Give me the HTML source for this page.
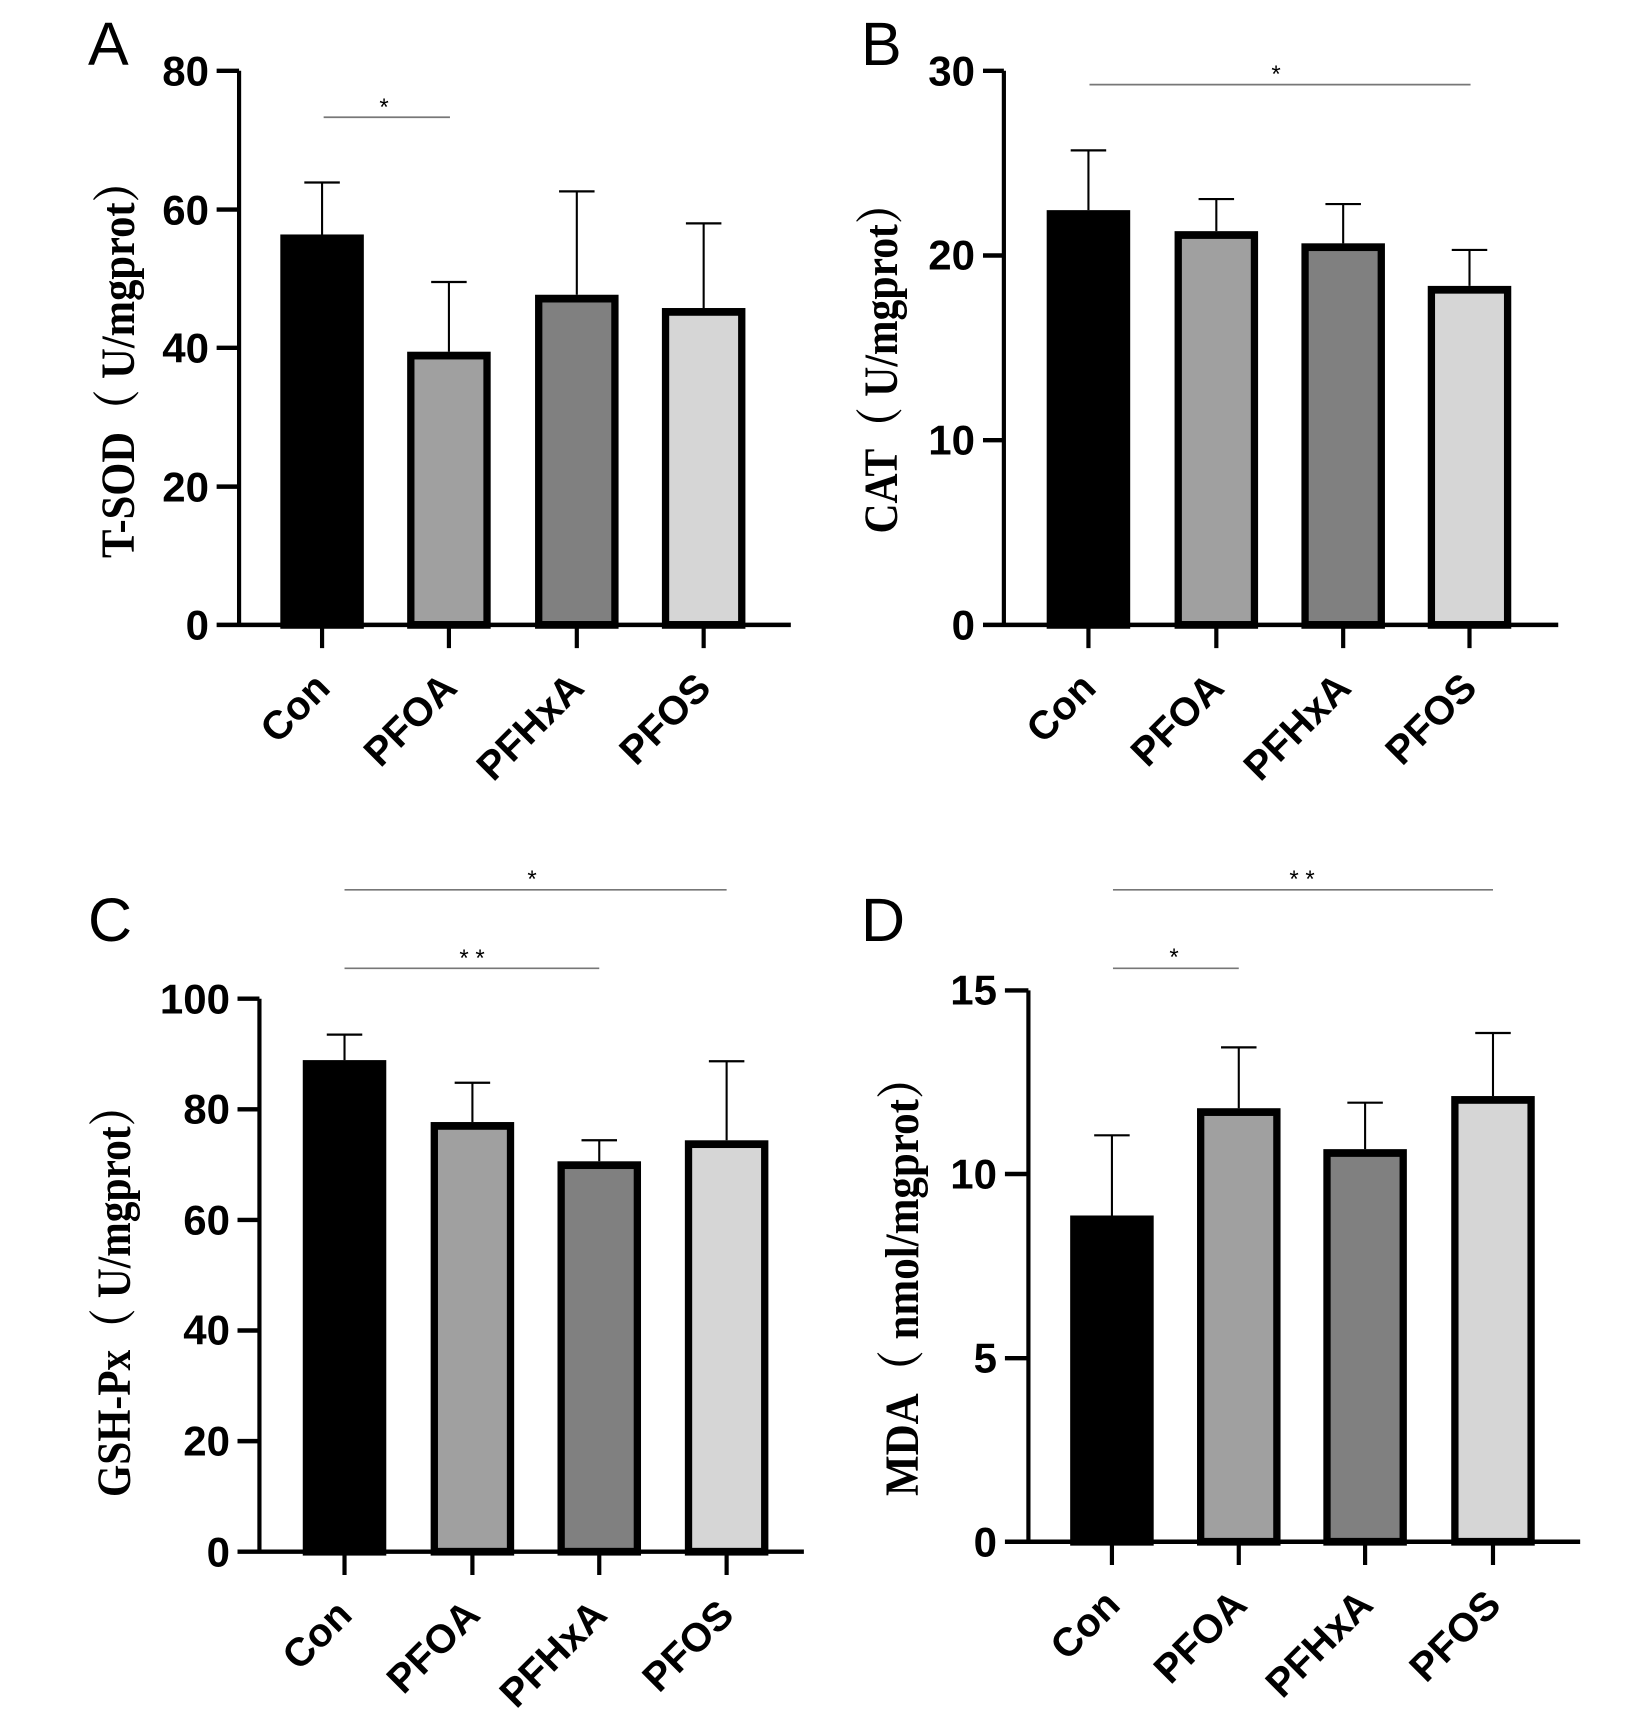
<!DOCTYPE html>
<html><head><meta charset="utf-8"><style>html,body{margin:0;padding:0;background:#fff}svg{display:block}</style></head><body>
<svg width="1635" height="1733" viewBox="0 0 1635 1733" xmlns="http://www.w3.org/2000/svg">
<defs>
<style>
.ax{stroke:#000;stroke-width:8;fill:none}
.eb{stroke:#000;stroke-width:4;fill:none}
.sg{stroke:#777;stroke-width:3}
.bar{stroke:#000;stroke-width:14}
.tk{font-family:"Liberation Sans",Arial,sans-serif;font-weight:bold;font-size:42px;text-anchor:end;dominant-baseline:central}
.xl{font-family:"Liberation Sans",Arial,sans-serif;font-weight:bold;font-size:40px;text-anchor:end}
.yl{font-family:"Liberation Serif","Noto Serif CJK SC",serif;font-weight:bold;font-size:48px;text-anchor:middle}
.lt{font-family:"Liberation Sans",Arial,sans-serif;font-size:61px}
.st{font-family:"Liberation Sans",Arial,sans-serif;font-size:24px;text-anchor:middle}
</style>
</defs>

<!-- Panel A -->
<g transform="translate(0,0) scale(0.522,0.553)">
<line class="sg" x1="620" y1="212" x2="862" y2="212"/>
<rect class="bar" x="544" y="431" width="146" height="699" fill="#000"/>
<rect class="bar" x="787" y="643" width="146" height="487" fill="#a0a0a0"/>
<rect class="bar" x="1032" y="540" width="146" height="590" fill="#808080"/>
<rect class="bar" x="1275" y="564" width="146" height="566" fill="#d6d6d6"/>
<path class="eb" d="M617 424V330M583 330H651M860 636V510M826 510H894M1105 533V346M1071 346H1139M1348 557V404M1314 404H1382"/>
<path class="ax" d="M458 128V1130M415 1130H1515M415 128H458M415 379H458M415 629H458M415 880H458M617 1130V1172M860 1130V1172M1105 1130V1172M1348 1130V1172"/>
</g>
<text class="tk" x="209" y="71">80</text><text class="tk" x="209" y="210">60</text><text class="tk" x="209" y="348">40</text><text class="tk" x="209" y="487">20</text><text class="tk" x="209" y="625">0</text>
<text class="xl" transform="translate(332,690) rotate(-45)">Con</text>
<text class="xl" transform="translate(459,690) rotate(-45)">PFOA</text>
<text class="xl" transform="translate(586,690) rotate(-45)">PFHxA</text>
<text class="xl" transform="translate(713,690) rotate(-45)">PFOS</text>
<text class="yl" transform="translate(134,359) rotate(-90)" textLength="398" lengthAdjust="spacingAndGlyphs">T-SOD（ U/mgprot）</text>
<text class="lt" x="88" y="65">A</text>
<text class="st" x="384" y="115">*</text>

<!-- Panel B -->
<g transform="translate(817,0) scale(0.522,0.553)">
<line class="sg" x1="522" y1="153" x2="1252" y2="153"/>
<rect class="bar" x="447" y="387" width="146" height="743" fill="#000"/>
<rect class="bar" x="692" y="425" width="146" height="705" fill="#a0a0a0"/>
<rect class="bar" x="935" y="447" width="146" height="683" fill="#808080"/>
<rect class="bar" x="1177" y="524" width="146" height="606" fill="#d6d6d6"/>
<path class="eb" d="M520 380V272M486 272H554M765 418V360M731 360H799M1008 440V369M974 369H1042M1250 517V452M1216 452H1284"/>
<path class="ax" d="M358 128V1130M318 1130H1420M318 128H358M318 462H358M318 796H358M520 1130V1172M765 1130V1172M1008 1130V1172M1250 1130V1172"/>
</g>
<text class="tk" x="975" y="71">30</text><text class="tk" x="975" y="255">20</text><text class="tk" x="975" y="440">10</text><text class="tk" x="975" y="625">0</text>
<text class="xl" transform="translate(1098,690) rotate(-45)">Con</text>
<text class="xl" transform="translate(1226,690) rotate(-45)">PFOA</text>
<text class="xl" transform="translate(1353,690) rotate(-45)">PFHxA</text>
<text class="xl" transform="translate(1479,690) rotate(-45)">PFOS</text>
<text class="yl" transform="translate(897,358) rotate(-90)" textLength="351" lengthAdjust="spacingAndGlyphs">CAT（ U/mgprot）</text>
<text class="lt" x="861" y="65">B</text>
<text class="st" x="1276" y="82">*</text>

<!-- Panel C -->
<g transform="translate(0,866) scale(0.522,0.553)">
<line class="sg" x1="660" y1="43" x2="1392" y2="43"/>
<line class="sg" x1="660" y1="185" x2="1148" y2="185"/>
<rect class="bar" x="587" y="358" width="146" height="882" fill="#000"/>
<rect class="bar" x="832" y="470" width="146" height="770" fill="#a0a0a0"/>
<rect class="bar" x="1075" y="541" width="146" height="699" fill="#808080"/>
<rect class="bar" x="1319" y="503" width="146" height="737" fill="#d6d6d6"/>
<path class="eb" d="M660 351V305M626 305H694M905 463V392M871 392H939M1148 534V496M1114 496H1182M1392 496V353M1358 353H1426"/>
<path class="ax" d="M497 240V1240M455 1240H1540M455 240H497M455 440H497M455 640H497M455 840H497M455 1040H497M660 1240V1282M905 1240V1282M1148 1240V1282M1392 1240V1282"/>
</g>
<text class="tk" x="230" y="999">100</text><text class="tk" x="230" y="1109">80</text><text class="tk" x="230" y="1220">60</text><text class="tk" x="230" y="1330">40</text><text class="tk" x="230" y="1441">20</text><text class="tk" x="230" y="1552">0</text>
<text class="xl" transform="translate(354,1617) rotate(-45)">Con</text>
<text class="xl" transform="translate(482,1617) rotate(-45)">PFOA</text>
<text class="xl" transform="translate(609,1617) rotate(-45)">PFHxA</text>
<text class="xl" transform="translate(736,1617) rotate(-45)">PFOS</text>
<text class="yl" transform="translate(130,1291) rotate(-90)" textLength="412" lengthAdjust="spacingAndGlyphs">GSH-Px（ U/mgprot）</text>
<text class="lt" x="88" y="941">C</text>
<text class="st" x="532" y="887">*</text>
<text class="st" x="472" y="966">* *</text>

<!-- Panel D -->
<g transform="translate(817,866) scale(0.522,0.553)">
<line class="sg" x1="567" y1="43" x2="1295" y2="43"/>
<line class="sg" x1="567" y1="185" x2="808" y2="185"/>
<rect class="bar" x="492" y="639" width="146" height="583" fill="#000"/>
<rect class="bar" x="735" y="445" width="146" height="777" fill="#a0a0a0"/>
<rect class="bar" x="977" y="519" width="146" height="703" fill="#808080"/>
<rect class="bar" x="1222" y="423" width="146" height="799" fill="#d6d6d6"/>
<path class="eb" d="M565 632V487M531 487H599M808 438V328M774 328H842M1050 512V428M1016 428H1084M1295 416V302M1261 302H1329"/>
<path class="ax" d="M405 225V1222M360 1222H1462M360 225H405M360 557H405M360 890H405M565 1222V1264M808 1222V1264M1050 1222V1264M1295 1222V1264"/>
</g>
<text class="tk" x="997" y="990">15</text><text class="tk" x="997" y="1174">10</text><text class="tk" x="997" y="1358">5</text><text class="tk" x="997" y="1542">0</text>
<text class="xl" transform="translate(1122,1607) rotate(-45)">Con</text>
<text class="xl" transform="translate(1249,1607) rotate(-45)">PFOA</text>
<text class="xl" transform="translate(1375,1607) rotate(-45)">PFHxA</text>
<text class="xl" transform="translate(1503,1607) rotate(-45)">PFOS</text>
<text class="yl" transform="translate(918,1276) rotate(-90)" textLength="440" lengthAdjust="spacingAndGlyphs">MDA（ nmol/mgprot）</text>
<text class="lt" x="861" y="941">D</text>
<text class="st" x="1302" y="887">* *</text>
<text class="st" x="1174" y="965">*</text>
</svg>
</body></html>
